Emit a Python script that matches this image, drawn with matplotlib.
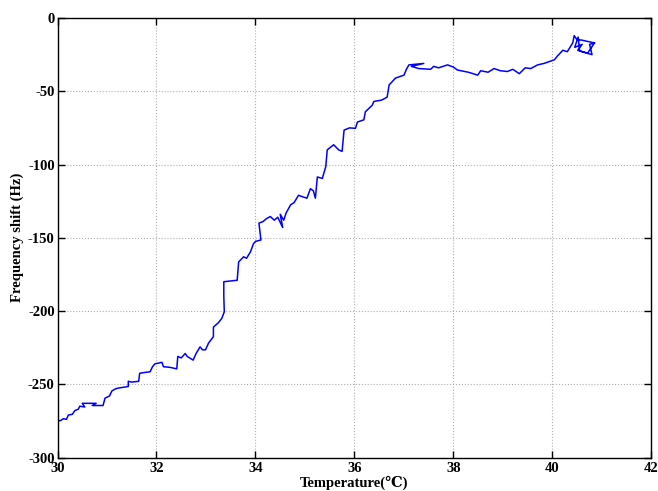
import matplotlib
matplotlib.use("Agg")
import matplotlib.pyplot as plt

temperature = [30.00, 30.05, 30.12, 30.18, 30.22, 30.30, 30.35, 30.42, 30.45, 30.55,
               30.50, 30.78, 30.70, 30.92, 30.96, 31.05, 31.10, 31.18, 31.25, 31.43,
               31.43, 31.50, 31.64, 31.66, 31.75, 31.87, 31.92, 31.97, 32.05, 32.11,
               32.14, 32.28, 32.41, 32.43, 32.50, 32.58, 32.62, 32.74, 32.80, 32.88,
               32.93, 32.99, 33.05, 33.15, 33.15, 33.25, 33.32, 33.37, 33.36, 33.36,
               33.63, 33.66, 33.76, 33.82, 33.90, 33.96, 34.00, 34.11, 34.07, 34.15,
               34.22, 34.30, 34.38, 34.45, 34.55, 34.50, 34.57, 34.62, 34.71, 34.78,
               34.87, 34.95, 35.04, 35.11, 35.17, 35.21, 35.25, 35.35, 35.42, 35.45,
               35.58, 35.68, 35.75, 35.79, 35.90, 36.02, 36.06, 36.19, 36.22, 36.36,
               36.39, 36.55, 36.66, 36.70, 36.83, 37.00, 37.05, 37.10, 37.40, 37.15,
               37.30, 37.54, 37.60, 37.70, 37.88, 38.00, 38.08, 38.30, 38.49, 38.55,
               38.70, 38.82, 38.95, 39.09, 39.20, 39.33, 39.45, 39.56, 39.70, 39.83,
               40.04, 40.10, 40.21, 40.30, 40.41, 40.44, 40.50, 40.58, 40.85, 40.71,
               40.51, 40.60, 40.45, 40.52, 40.55, 40.80, 40.75, 40.85]
freq_shift = [-274.5, -275.0, -273.5, -274.0, -271.0, -270.5, -268.0, -267.0, -265.0, -265.5,
              -263.0, -263.0, -264.5, -264.5, -259.5, -258.0, -254.5, -253.0, -252.5, -251.5,
              -248.0, -248.5, -248.0, -242.5, -242.0, -241.5, -238.0, -236.0, -235.5, -235.0,
              -238.0, -238.5, -239.5, -231.0, -232.0, -229.0, -231.0, -233.5, -229.0, -224.5,
              -226.5, -226.5, -222.0, -217.5, -211.0, -208.0, -205.0, -200.5, -190.0, -180.0,
              -179.0, -166.5, -163.0, -164.0, -159.5, -154.0, -152.5, -151.5, -140.0, -139.0,
              -137.0, -135.5, -138.0, -136.0, -143.0, -134.0, -138.0, -133.0, -127.5, -126.0,
              -121.0, -122.0, -123.0, -116.5, -118.0, -123.0, -108.5, -109.5, -101.5, -90.0,
              -86.5, -90.0, -91.0, -76.5, -75.0, -75.3, -71.0, -69.5, -64.0, -59.5,
              -57.0, -56.0, -54.0, -45.7, -41.0, -39.0, -35.0, -32.0, -31.0, -33.0,
              -34.5, -35.0, -33.0, -34.0, -32.0, -33.5, -35.5, -37.0, -39.0, -36.0,
              -37.0, -34.5, -36.0, -36.5, -35.0, -38.0, -34.0, -34.5, -32.0, -31.0,
              -28.5, -26.0, -22.0, -23.0, -17.0, -12.0, -15.0, -15.0, -17.0, -24.0,
              -22.0, -18.0, -20.0, -13.0, -22.5, -25.0, -18.0, -17.0]

x_ticks = [30, 32, 34, 36, 38, 40, 42]
y_ticks = [-300, -250, -200, -150, -100, -50, 0]

fam = ['Liberation Serif', 'DejaVu Serif', 'Noto Sans CJK SC']
plt.rcParams['font.family'] = fam
plt.rcParams['font.weight'] = 'bold'
plt.rcParams['axes.unicode_minus'] = False

fig = plt.figure(figsize=(6.58, 4.91), dpi=100)
ax = fig.add_axes([0.0874, 0.0682, 0.9026, 0.8951])
ax.plot(temperature, freq_shift, color='#0000ff', linewidth=1.1)
ax.set_xlim(30, 42)
ax.set_ylim(-300, 0)
ax.set_xticks(x_ticks)
ax.set_yticks(y_ticks)
ax.grid(True, linestyle=':', color='#b0b0b0', linewidth=0.8)
ax.tick_params(direction='in', top=True, right=True, length=5, width=1,
               labelsize=10.5)
ax.tick_params(axis='x', pad=3.5)
ax.tick_params(axis='y', pad=2)
for lab in ax.get_xticklabels() + ax.get_yticklabels():
    lab.set_fontweight('bold')
for s in ax.spines.values():
    s.set_linewidth(1.0)
ax.set_xlabel('Temperature(℃)', fontsize=10.5, fontweight='bold', labelpad=0)
ax.set_ylabel('Frequency shift (Hz)', fontsize=10.5, fontweight='bold', labelpad=3)
fig.savefig('out.png', dpi=100)
